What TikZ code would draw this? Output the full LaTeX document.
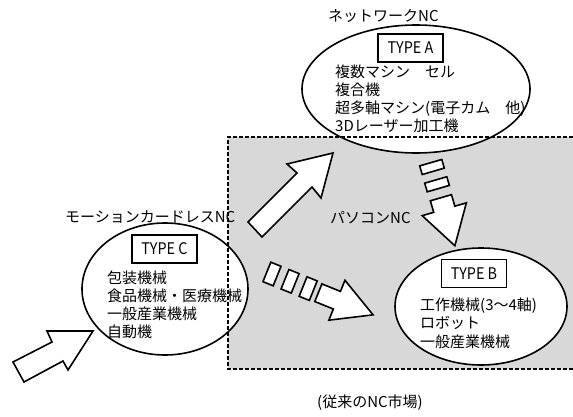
\documentclass[tikz,border=0pt]{standalone}
\usepackage{fontspec}
\newfontfamily\jp{Noto Sans CJK JP}
\newfontfamily\jpnarrow[FakeStretch=0.9]{Noto Sans CJK JP}
\usetikzlibrary{shapes.geometric}
\definecolor{bggray}{RGB}{216,216,216}
\begin{document}
\begin{tikzpicture}[x=1pt,y=-1pt,
  ell/.style={ellipse, draw, line width=1.6pt, fill=white, inner sep=0pt},
  typebox/.style={draw, line width=1.8pt, fill=white, minimum width=65pt, minimum height=28pt, inner sep=0pt, font=\jpnarrow\fontsize{16}{16}\selectfont},
  jtxt/.style={font=\jp\fontsize{15}{18}\selectfont, inner sep=0pt, anchor=base west},
  arrowbody/.style={draw, line width=1.6pt, fill=white, line join=miter},
  border/.style={line width=1.5pt, dash pattern=on 4pt off 2pt}]
\useasboundingbox (0,0) rectangle (573,417);
% market area
\fill[bggray] (228,137) rectangle (573,369);
% ellipses
\node[ell, minimum width=228pt, minimum height=128pt] (A) at (416,89) {};
\node[ell, minimum width=166pt, minimum height=132pt] (C) at (165,289) {};
\node[ell, minimum width=172pt, minimum height=117pt] (B) at (481,306.5) {};
\draw[border] (573,137) -- (228,137) -- (228,369) -- (573,369);
% block arrows
\draw[arrowbody] (13,362) -- (52,342) -- (47,331) -- (93,331) -- (68,370) -- (63,361) -- (24,382) -- cycle;
\draw[arrowbody] (248,222) -- (297,173) -- (287,164) -- (333,153) -- (321,198) -- (312,187) -- (262,237) -- cycle;
\begin{scope}[shift={(272,274)}, rotate=-22]
  \foreach \s in {0,19.5,39} \draw[arrowbody] (\s-5.5,-10.5) rectangle (\s+5.5,10.5);
  \draw[arrowbody] (50,-9.5) -- (70,-9.5) -- (70,-21.5) -- (109,0) -- (70,21.5) -- (70,9.5) -- (50,9.5) -- cycle;
\end{scope}
\begin{scope}[shift={(432,167)}, rotate=-73.8]
  \foreach \s in {0,18} \draw[arrowbody] (\s-4.5,-11.5) rectangle (\s+4.5,11.5);
  \draw[arrowbody] (32,-11) -- (44,-11) -- (44,-23) -- (82,0) -- (44,23) -- (44,11) -- (32,11) -- cycle;
\end{scope}
% type boxes
\node[typebox] (ta) at (410.5,48) {TYPE A};
\node[typebox] (tc) at (164.5,249) {TYPE C};
\node[typebox] (tb) at (474,273.5) {TYPE B};
% texts A
\node[jtxt] (a1) at (335,78) {複数マシン　セル};
\node[jtxt] (a2) at (335,96) {複合機};
\node[jtxt] (a3) at (335,114) {超多軸マシン(電子カム　他)};
\node[jtxt] (a4) at (335,132) {3Dレーザー加工機};
% texts C
\node[jtxt] (c1) at (107,283) {包装機械};
\node[jtxt] (c2) at (107,301) {食品機械・医療機械};
\node[jtxt] (c3) at (107,319) {一般産業機械};
\node[jtxt] (c4) at (107,337) {自動機};
% texts B
\node[jtxt] (b1) at (420,310) {工作機械(3～4軸)};
\node[jtxt] (b2) at (420,328) {ロボット};
\node[jtxt] (b3) at (420,347) {一般産業機械};
% titles
\node[jtxt] (tA) at (328,22) {ネットワークNC};
\node[jtxt] (tC) at (65,222) {モーションカードレスNC};
\node[jtxt] (tP) at (330,223) {パソコンNC};
\node[jtxt] (tM) at (317,407) {(従来のNC市場)};
\end{tikzpicture}
\end{document}
